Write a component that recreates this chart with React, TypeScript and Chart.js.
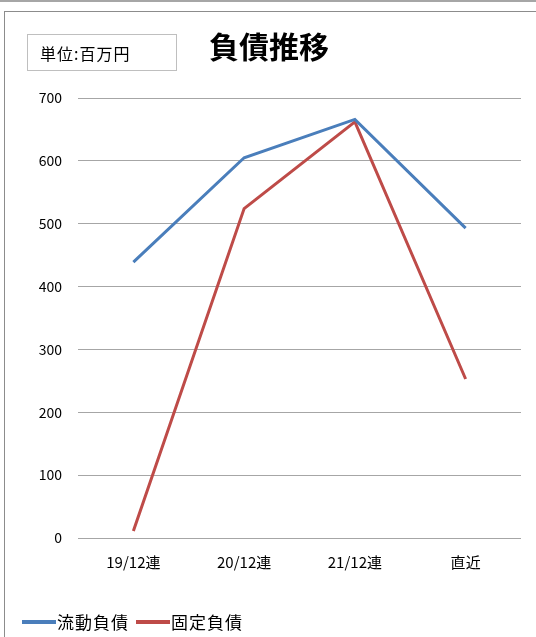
import React, { useEffect, useRef } from "react";
import { Chart, registerables } from "chart.js";

Chart.register(...registerables);

const categories = ["19/12連", "20/12連", "21/12連", "直近"];
const currentLiabilities = [439, 605, 666, 493];
const fixedLiabilities = [11, 524, 662, 253];
const yTicks = [0, 100, 200, 300, 400, 500, 600, 700];
const seriesNames = ["流動負債", "固定負債"];
const seriesColors = ["#4a7ebb", "#be4b48"];

const FONT = "'Noto Sans CJK JP', 'Noto Sans', sans-serif";

export default function App() {
  const ref = useRef<HTMLCanvasElement>(null);
  useEffect(() => {
    if (!ref.current) return;
    const chart = new Chart(ref.current, {
      type: "line",
      data: {
        labels: categories,
        datasets: [
          {
            label: seriesNames[0],
            data: currentLiabilities,
            borderColor: seriesColors[0],
            backgroundColor: seriesColors[0],
            borderWidth: 3,
            pointRadius: 0,
            tension: 0,
          },
          {
            label: seriesNames[1],
            data: fixedLiabilities,
            borderColor: seriesColors[1],
            backgroundColor: seriesColors[1],
            borderWidth: 3,
            pointRadius: 0,
            tension: 0,
          },
        ],
      },
      options: {
        animation: false,
        responsive: false,
        maintainAspectRatio: false,
        layout: { padding: { left: 20, right: 15, top: 98, bottom: 39 } },
        plugins: { legend: { display: false }, title: { display: false }, tooltip: { enabled: false } },
        scales: {
          x: {
            offset: true,
            grid: { display: false, drawTicks: false },
            border: { display: false },
            ticks: { color: "#000", font: { family: FONT, size: 15 }, padding: 15 },
            afterFit: (s: any) => { s.height = 60; },
          },
          y: {
            min: 0,
            max: 700,
            afterBuildTicks: (s: any) => { s.ticks = yTicks.map((v) => ({ value: v })); },
            grid: { color: "#a6a6a6", lineWidth: 1, drawTicks: false },
            border: { display: false },
            ticks: { color: "#000", font: { family: FONT, size: 14 }, padding: 16 },
            afterFit: (s: any) => { s.width = 58; },
          },
        },
      },
    });
    return () => chart.destroy();
  }, []);

  return (
    <div style={{ position: "fixed", left: 0, top: 0, width: 536, height: 637, background: "#fff", overflow: "hidden", fontFamily: FONT }}>
      <div style={{ position: "absolute", left: 0, top: 0, width: 536, height: 0, borderTop: "2px solid #a6a6a6" }} />
      <div style={{ position: "absolute", left: 4, top: 11, width: 600, height: 700, border: "1px solid #8c8c8c", boxSizing: "border-box" }} />
      <canvas ref={ref} width={536} height={637} style={{ position: "absolute", left: 0, top: 0 }} />
      <div style={{ position: "absolute", left: 27, top: 34, width: 150, height: 37, border: "1px solid #bfbfbf", boxSizing: "border-box", display: "flex", alignItems: "center", paddingLeft: 12, fontSize: 16, letterSpacing: 1, color: "#000" }}>
        単位:百万円
      </div>
      <div style={{ position: "absolute", left: 209, top: 25, fontSize: 30, fontWeight: "bold", color: "#000", lineHeight: "40px" }}>
        負債推移
      </div>
      <div style={{ position: "absolute", left: 22, top: 610, display: "flex", alignItems: "center", fontSize: 17, letterSpacing: 1, color: "#000", lineHeight: "24px" }}>
        <span style={{ display: "inline-block", width: 34, height: 4, background: seriesColors[0] }} />
        <span style={{ marginLeft: 1 }}>{seriesNames[0]}</span>
        <span style={{ display: "inline-block", width: 34, height: 4, background: seriesColors[1], marginLeft: 7 }} />
        <span style={{ marginLeft: 1 }}>{seriesNames[1]}</span>
      </div>
    </div>
  );
}
